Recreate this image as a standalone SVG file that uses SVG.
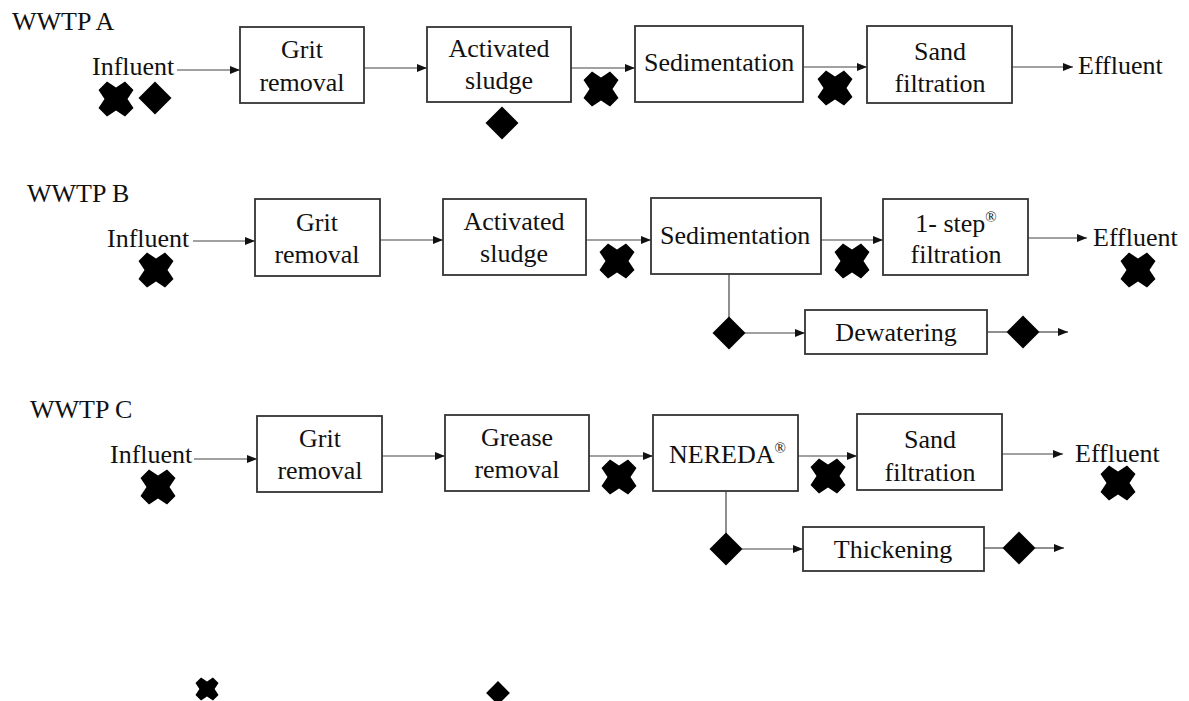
<svg xmlns="http://www.w3.org/2000/svg" xmlns:xlink="http://www.w3.org/1999/xlink" width="1189" height="701" viewBox="0 0 1189 701" font-family="'Liberation Serif', 'Times New Roman', serif">
<style>
  text { font-family: "Liberation Serif", "Times New Roman", serif; font-size: 26px; fill: #111; }
  .c { text-anchor: middle; }
  .box { fill: #fff; stroke: #333; stroke-width: 1.8; }
  .ln { fill: none; stroke: #444; stroke-width: 1.2; }
  .sym { fill: #000; }
</style>
<defs>
  <marker id="ah" markerUnits="userSpaceOnUse" markerWidth="10" markerHeight="8" refX="10" refY="4" orient="auto">
    <path d="M0,0 L10,4 L0,8 z" fill="#111"/>
  </marker>
  <path id="cross" d="M-9,-17.5 L0,-11.5 L9,-17.5 L17.5,-9 L11.5,0 L17.5,9 L9,17.5 L0,11.5 L-9,17.5 L-17.5,9 L-11.5,0 L-17.5,-9 z"/>
  <path id="dia" d="M0,-16.5 L16.5,0 L0,16.5 L-16.5,0 z"/>
</defs>
<rect width="1189" height="701" fill="#fff"/>

<!-- connectors -->
<g id="connectors" class="ln">
  <line x1="177" y1="70" x2="240" y2="70" marker-end="url(#ah)"/>
  <line x1="364" y1="68" x2="427" y2="68" marker-end="url(#ah)"/>
  <line x1="571" y1="68" x2="635" y2="68" marker-end="url(#ah)"/>
  <line x1="803" y1="67" x2="867" y2="67" marker-end="url(#ah)"/>
  <line x1="1012" y1="67" x2="1073" y2="67" marker-end="url(#ah)"/>

  <line x1="193" y1="241" x2="255" y2="241" marker-end="url(#ah)"/>
  <line x1="380" y1="240" x2="443" y2="240" marker-end="url(#ah)"/>
  <line x1="586" y1="240" x2="651" y2="240" marker-end="url(#ah)"/>
  <line x1="821" y1="240" x2="883" y2="240" marker-end="url(#ah)"/>
  <line x1="1028" y1="238" x2="1087" y2="238" marker-end="url(#ah)"/>
  <line x1="729" y1="274" x2="729" y2="318"/>
  <line x1="745" y1="333" x2="805" y2="333" marker-end="url(#ah)"/>
  <line x1="987" y1="332" x2="1007" y2="332"/>
  <line x1="1039" y1="332" x2="1068" y2="332" marker-end="url(#ah)"/>

  <line x1="194" y1="459" x2="257" y2="459" marker-end="url(#ah)"/>
  <line x1="382" y1="456" x2="445" y2="456" marker-end="url(#ah)"/>
  <line x1="589" y1="456" x2="653" y2="456" marker-end="url(#ah)"/>
  <line x1="798" y1="456" x2="857" y2="456" marker-end="url(#ah)"/>
  <line x1="1002" y1="454" x2="1063" y2="454" marker-end="url(#ah)"/>
  <line x1="726" y1="491" x2="726" y2="534"/>
  <line x1="742" y1="549" x2="803" y2="549" marker-end="url(#ah)"/>
  <line x1="984" y1="548" x2="1003" y2="548"/>
  <line x1="1035" y1="548" x2="1064" y2="548" marker-end="url(#ah)"/>
</g>

<!-- WWTP A -->
<g id="labelA"><text x="12" y="30">WWTP A</text></g>
<g id="A_influent"><text x="92" y="75">Influent</text></g>
<g id="A_grit"><rect class="box" x="240" y="27" width="124" height="76"/><text class="c" x="302" y="58">Grit</text><text class="c" x="302" y="91">removal</text></g>
<g id="A_as"><rect class="box" x="427" y="27" width="144" height="75"/><text class="c" x="499" y="57">Activated</text><text class="c" x="499" y="89">sludge</text></g>
<g id="A_sed"><rect class="box" x="635" y="26" width="168" height="76"/><text x="644" y="71">Sedimentation</text></g>
<g id="A_sand"><rect class="box" x="867" y="26" width="145" height="77"/><text class="c" x="940" y="60">Sand</text><text class="c" x="940" y="92">filtration</text></g>
<g id="A_effluent"><text x="1078" y="74">Effluent</text></g>
<g id="A_symbols" class="sym">
  <use xlink:href="#cross" x="116" y="99"/>
  <use xlink:href="#dia" x="155" y="98"/>
  <use xlink:href="#dia" x="502" y="123"/>
  <use xlink:href="#cross" x="601" y="89"/>
  <use xlink:href="#cross" x="835" y="88"/>
</g>

<!-- WWTP B -->
<g id="labelB"><text x="27" y="202">WWTP B</text></g>
<g id="B_influent"><text x="107" y="247">Influent</text></g>
<g id="B_grit"><rect class="box" x="255" y="199" width="125" height="77"/><text class="c" x="317" y="231">Grit</text><text class="c" x="317" y="263">removal</text></g>
<g id="B_as"><rect class="box" x="443" y="199" width="143" height="76"/><text class="c" x="514" y="230">Activated</text><text class="c" x="514" y="262">sludge</text></g>
<g id="B_sed"><rect class="box" x="651" y="198" width="170" height="76"/><text x="660" y="244">Sedimentation</text></g>
<g id="B_step"><rect class="box" x="883" y="199" width="145" height="76"/><text class="c" x="956" y="232">1- step<tspan font-size="15" dy="-10">®</tspan></text><text class="c" x="956" y="263">filtration</text></g>
<g id="B_effluent"><text x="1093" y="246">Effluent</text></g>
<g id="B_dew"><rect class="box" x="805" y="310" width="182" height="44"/><text class="c" x="896" y="341">Dewatering</text></g>
<g id="B_symbols" class="sym">
  <use xlink:href="#cross" x="156" y="270"/>
  <use xlink:href="#cross" x="617" y="261"/>
  <use xlink:href="#cross" x="852" y="261"/>
  <use xlink:href="#cross" x="1138" y="270"/>
  <use xlink:href="#dia" x="729" y="333"/>
  <use xlink:href="#dia" x="1023" y="332"/>
</g>

<!-- WWTP C -->
<g id="labelC"><text x="30" y="418">WWTP C</text></g>
<g id="C_influent"><text x="110" y="463">Influent</text></g>
<g id="C_grit"><rect class="box" x="257" y="416" width="125" height="76"/><text class="c" x="320" y="447">Grit</text><text class="c" x="320" y="479">removal</text></g>
<g id="C_grease"><rect class="box" x="445" y="415" width="144" height="76"/><text class="c" x="517" y="446">Grease</text><text class="c" x="517" y="478">removal</text></g>
<g id="C_nereda"><rect class="box" x="653" y="415" width="145" height="76"/><text x="669" y="463">NEREDA<tspan font-size="15" dy="-10">®</tspan></text></g>
<g id="C_sand"><rect class="box" x="857" y="414" width="145" height="76"/><text class="c" x="930" y="448">Sand</text><text class="c" x="930" y="481">filtration</text></g>
<g id="C_effluent"><text x="1075" y="462">Effluent</text></g>
<g id="C_thick"><rect class="box" x="803" y="527" width="181" height="44"/><text class="c" x="893" y="558">Thickening</text></g>
<g id="C_symbols" class="sym">
  <use xlink:href="#cross" x="158" y="487"/>
  <use xlink:href="#cross" x="619" y="477"/>
  <use xlink:href="#cross" x="828" y="476"/>
  <use xlink:href="#cross" x="1118" y="483"/>
  <use xlink:href="#dia" x="726" y="549"/>
  <use xlink:href="#dia" x="1019" y="548"/>
</g>

<!-- legend -->
<g id="legend" class="sym">
  <use xlink:href="#cross" transform="translate(207,689) scale(0.66)"/>
  <use xlink:href="#dia" transform="translate(498,693) scale(0.72)"/>
</g>
</svg>
